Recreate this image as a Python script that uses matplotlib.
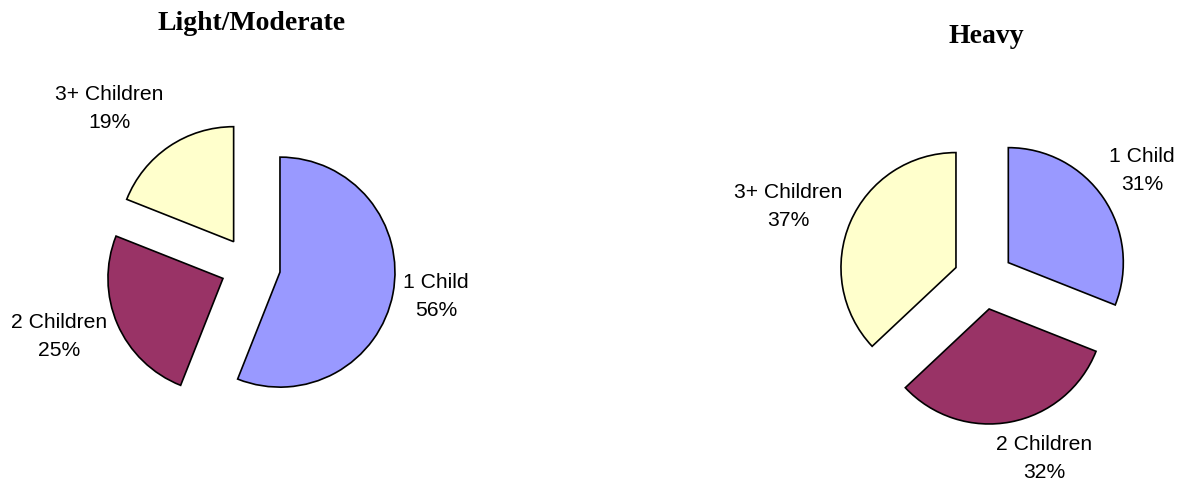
import matplotlib
matplotlib.use("Agg")
import matplotlib.pyplot as plt

# Share of families by number of children, for each usage group
categories = ["1 Child", "2 Children", "3+ Children"]
light_moderate = [56, 25, 19]
heavy = [31, 32, 37]
titles = ["Light/Moderate", "Heavy"]

colors = ["#9999FF", "#993366", "#FFFFCC"]

W, H = 1181, 485
fig = plt.figure(figsize=(W / 100, H / 100), dpi=100)
ax = fig.add_axes([0, 0, 1, 1])

# Layout in pixel units (y measured from the top of the figure)
pies = [
    dict(values=light_moderate, title=titles[0], center=(250.5, 267.5),
         title_xy=(251.5, 30),
         label_xy=[(436, 297), (59.5, 336), (109, 109)]),
    dict(values=heavy, title=titles[1], center=(983.5, 280.5),
         title_xy=(986, 43),
         label_xy=[(1142, 170), (1044, 459), (788, 207)]),
]
radius = 115
# pie() offsets exploded wedges in data units (pixels here)
explode_px = 30

for p in pies:
    cx, cy = p["center"]
    ax.pie(p["values"], colors=colors, startangle=90, counterclock=False,
           explode=[explode_px] * len(p["values"]), radius=radius,
           center=(cx, H - cy),
           wedgeprops=dict(edgecolor="black", linewidth=1.2))
    ax.text(p["title_xy"][0], H - p["title_xy"][1], p["title"],
            ha="center", va="baseline", fontsize=20, fontweight="bold",
            family="Liberation Serif")
    for name, val, (lx, ly) in zip(categories, p["values"], p["label_xy"]):
        ax.text(lx, H - ly, f"{name}\n{val}%", ha="center", va="center",
                multialignment="center", fontsize=15.2, linespacing=1.6,
                family="Liberation Sans")

ax.set_xlim(0, W)
ax.set_ylim(0, H)
ax.set_aspect("equal")
ax.set_axis_off()

fig.savefig("out.png", dpi=100, facecolor="white")
